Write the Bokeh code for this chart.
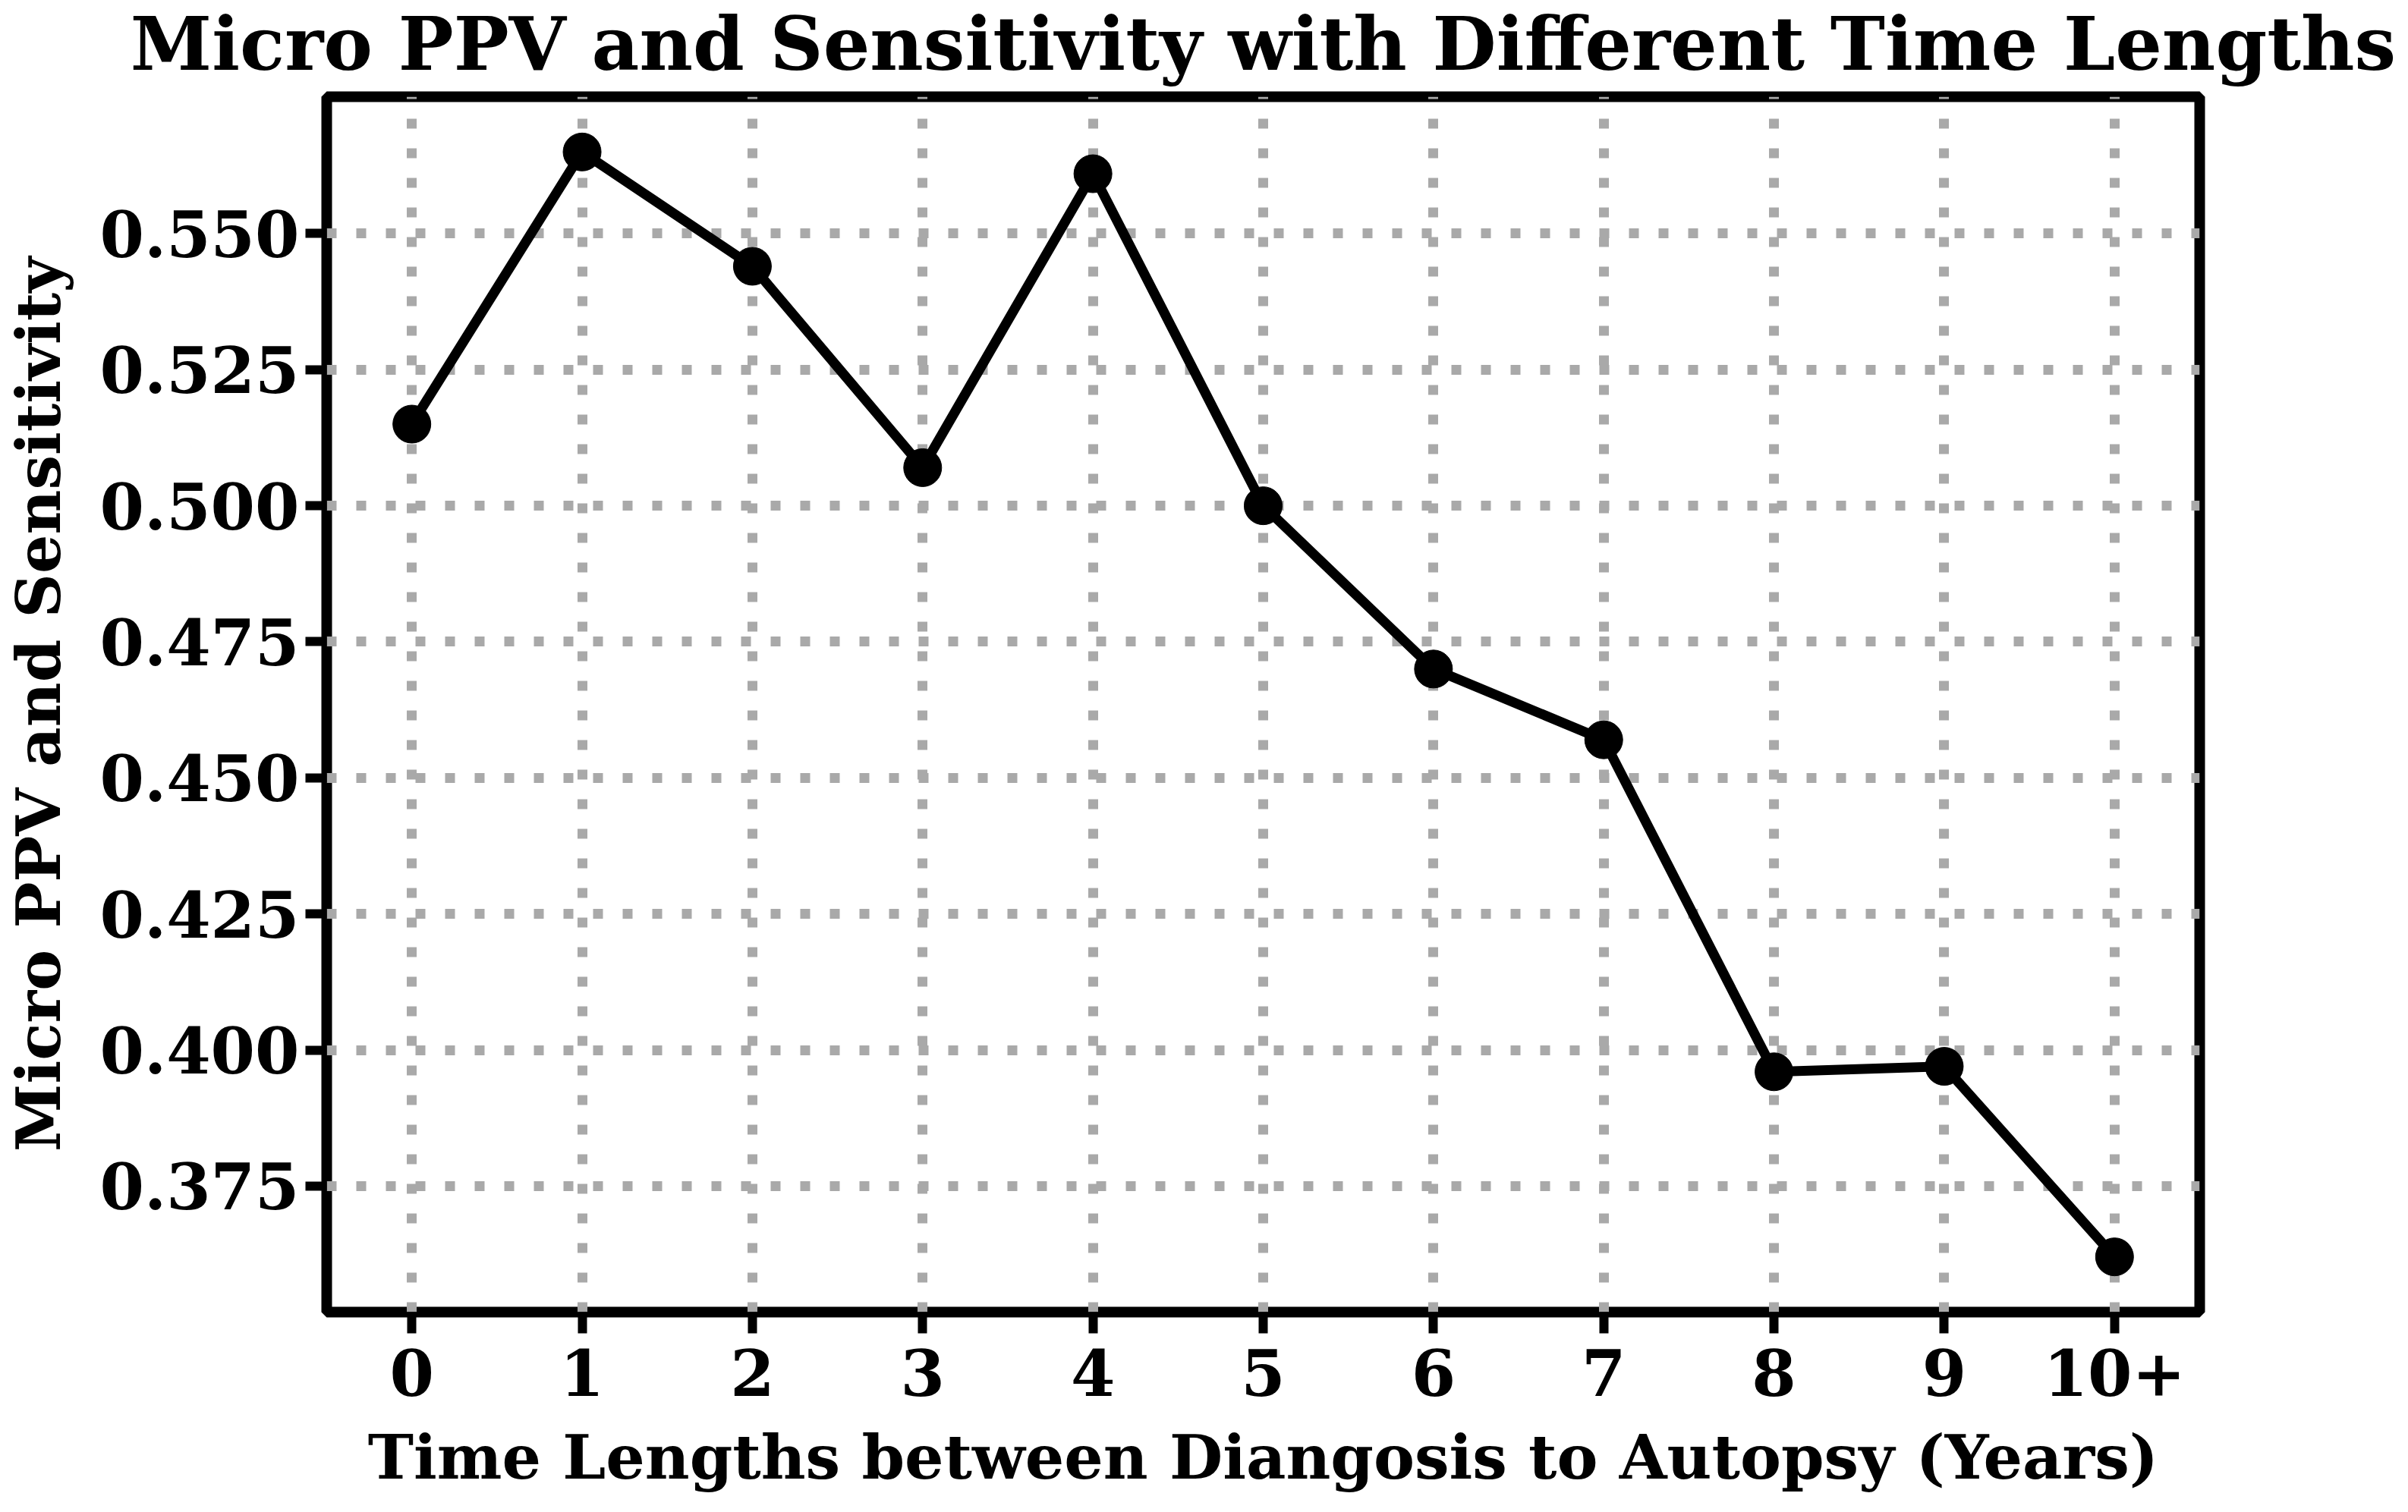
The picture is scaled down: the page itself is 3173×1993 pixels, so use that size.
from bokeh.plotting import figure
from bokeh.models import Range1d, FixedTicker, PrintfTickFormatter, Title
from bokeh.embed import file_html
from bokeh.resources import INLINE

# ---- data ----
x_labels = ["0", "1", "2", "3", "4", "5", "6", "7", "8", "9", "10+"]
x_pos = list(range(len(x_labels)))
micro_ppv = [0.515, 0.565, 0.544, 0.507, 0.561, 0.500, 0.470, 0.457, 0.396, 0.397, 0.362]
y_ticks = [0.375, 0.400, 0.425, 0.450, 0.475, 0.500, 0.525, 0.550]

title_text = "Micro PPV and Sensitivity with Different Time Lengths"
x_title = "Time Lengths between Diangosis to Autopsy (Years)"
y_title = "Micro PPV and Sensitivity"

FONT = "DejaVu Serif"

lo, hi = min(micro_ppv), max(micro_ppv)
pad = 0.05 * (hi - lo)

p = figure(
    frame_width=2468, frame_height=1602,
    x_range=Range1d(-0.5, len(x_labels) - 0.5),
    y_range=Range1d(lo - pad, hi + pad),
    output_backend="svg", toolbar_location=None,
    min_border_left=422, min_border_top=136, min_border_right=262, min_border_bottom=0,
    background_fill_color="white", border_fill_color="white",
    styles={"margin-top": "-14px"},
)

p.add_layout(Title(text=title_text, text_font=FONT, text_font_style="bold",
                   text_font_size="97px", align="center", standoff=25, offset=-13,
                   text_color="black"), "above")

p.outline_line_color = "black"
p.outline_line_width = 14

for ax in (p.xaxis, p.yaxis):
    ax.axis_line_color = None
    ax.major_tick_line_color = "black"
    ax.major_tick_line_width = 12
    ax.major_tick_out = 28
    ax.major_tick_in = 0
    ax.minor_tick_line_color = None
    ax.major_label_text_font = FONT
    ax.major_label_text_font_style = "bold"
    ax.major_label_text_font_size = "84px"
    ax.major_label_text_color = "black"
    ax.axis_label_text_font = FONT
    ax.axis_label_text_font_style = "bold"
    ax.axis_label_text_font_size = "81px"
    ax.axis_label_text_color = "black"

p.xaxis.ticker = FixedTicker(ticks=x_pos)
p.xaxis.major_label_overrides = {i: lab for i, lab in zip(x_pos, x_labels)}
p.xaxis.major_label_standoff = 20
p.xaxis.axis_label = x_title
p.xaxis.axis_label_standoff = 30

p.yaxis.ticker = FixedTicker(ticks=y_ticks)
p.yaxis.formatter = PrintfTickFormatter(format="%.3f")
p.yaxis.major_label_standoff = 8
p.yaxis.axis_label = y_title
p.yaxis.axis_label_standoff = 30

for g in (p.xgrid, p.ygrid):
    g.grid_line_color = "#a9a9a9"
    g.grid_line_width = 13
    g.grid_line_dash = "13 26"
p.xgrid.ticker = FixedTicker(ticks=x_pos)
p.ygrid.ticker = FixedTicker(ticks=y_ticks)

p.line(x_pos, micro_ppv, line_color="black", line_width=13)
p.scatter(x_pos, micro_ppv, size=50, fill_color="black", line_color="black")

open("out.html", "w").write(file_html(p, INLINE))
